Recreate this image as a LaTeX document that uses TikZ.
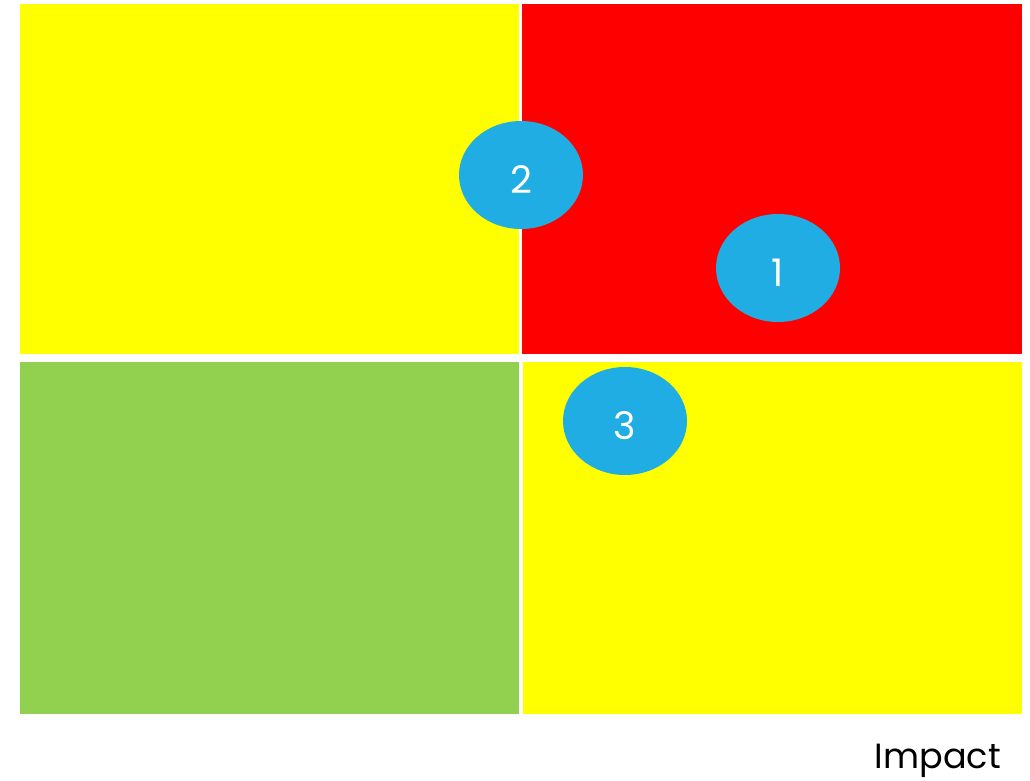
\documentclass[tikz,border=0pt]{standalone}
\usepackage{fontspec}
\setmainfont{Poppins}
\definecolor{qyellow}{HTML}{FFFF00}
\definecolor{qred}{HTML}{FF0000}
\definecolor{qgreen}{HTML}{92D050}
\definecolor{qblue}{HTML}{1FADE3}
\tikzset{
  quad/.style={draw=none, inner sep=0pt, outer sep=0pt, anchor=north west},
  bubble/.style={ellipse, fill=qblue, draw=none, minimum width=124pt, minimum height=108pt, inner sep=0pt, text=white, font=\fontsize{38}{38}\selectfont},
}
\usetikzlibrary{shapes.geometric}
\begin{document}
\begin{tikzpicture}[x=1pt,y=-1pt]
\useasboundingbox (0,0) rectangle (1030,781);
\node[quad, fill=qyellow, minimum width=499pt, minimum height=350pt] (tl) at (20,4) {};
\node[quad, fill=qred, minimum width=500pt, minimum height=350pt] (tr) at (522,4) {};
\node[quad, fill=qgreen, minimum width=499pt, minimum height=352pt] (bl) at (20,362) {};
\node[quad, fill=qyellow, minimum width=499pt, minimum height=352pt] (br) at (523,362) {};
\node[bubble] (b2) at (521,175) {};
\node[bubble] (b1) at (778,268) {};
\node[bubble] (b3) at (625,421) {};
\node[text=white, font=\fontsize{38}{38}\selectfont, anchor=base, inner sep=0pt] (t2) at (521,193) {2};
\node[text=white, font=\fontsize{38}{38}\selectfont, anchor=base, inner sep=0pt] (t1) at (778,286) {1};
\node[text=white, font=\fontsize{38}{38}\selectfont, anchor=base, inner sep=0pt] (t3) at (625,439) {3};
\node[anchor=base east, inner sep=0pt, font=\fontsize{35}{35}\selectfont] (impact) at (1001,768) {Impact};
\end{tikzpicture}
\end{document}
